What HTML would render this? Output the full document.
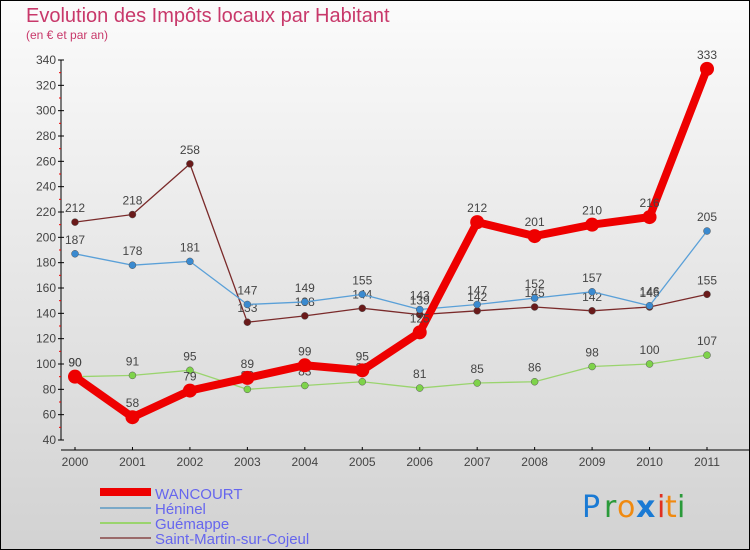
<!DOCTYPE html>
<html><head><meta charset="utf-8"><style>
body{margin:0;width:750px;height:550px;overflow:hidden;font-family:"Liberation Sans","DejaVu Sans",sans-serif}
svg{display:block}
</style></head><body>
<svg id="c" width="750" height="550" xmlns="http://www.w3.org/2000/svg">
<defs><linearGradient id="bg" x1="0" y1="0" x2="0" y2="1"><stop offset="0" stop-color="#fbfbfb"/><stop offset="1" stop-color="#d2d2d2"/></linearGradient></defs>
<rect x="0.5" y="0.5" width="749" height="549" fill="url(#bg)" stroke="#000"/>
<text x="26" y="22" font-size="20" fill="#c8386a">Evolution des Impôts locaux par Habitant</text>
<text x="26" y="39" font-size="12" fill="#c8386a">(en € et par an)</text>
<g id="axes"></g><g id="series"></g>
<g>
<rect x="100" y="488" width="51" height="8" fill="#e00"/>
<text x="155" y="499" font-size="15" fill="#6666ee">WANCOURT</text>
<rect x="100" y="507" width="51" height="2" fill="#7aa9c8"/>
<text x="155" y="514" font-size="15" fill="#6666ee">Héninel</text>
<rect x="100" y="522" width="51" height="2" fill="#9ad46e"/>
<text x="155" y="529" font-size="15" fill="#6666ee">Guémappe</text>
<rect x="100" y="537" width="51" height="2" fill="#9a6a6a"/>
<text x="155" y="544" font-size="15" fill="#6666ee">Saint-Martin-sur-Cojeul</text>
</g>
<g font-size="30" font-family="DejaVu Sans, sans-serif">
<text x="582" y="517" fill="#1a7ad4">P</text><text x="604" y="517" fill="#2a9a3a">r</text><text x="617" y="517" fill="#f08a10">o</text><text x="636" y="517" fill="#1a7ad4" font-weight="bold">x</text><text x="657" y="517" fill="#e03020">i</text><text x="665" y="517" fill="#f08a10">t</text><text x="677" y="517" fill="#2a9a3a">i</text>
</g>
</svg>
<script>
const years=["2000","2001","2002","2003","2004","2005","2006","2007","2008","2009","2010","2011"];
const yTicks=[40,60,80,100,120,140,160,180,200,220,240,260,280,300,320,340];
const wancourt=[90,58,79,89,99,95,125,212,201,210,216,333];
const heninel=[187,178,181,147,149,155,143,147,152,157,146,205];
const guemappe=[90,91,95,80,83,86,81,85,86,98,100,107];
const saintMartin=[212,218,258,133,138,144,139,142,145,142,145,155];
const NS="http://www.w3.org/2000/svg";
const xs=i=>75+i*(707-75)/11;
const ys=v=>440-(v-40)*380/300;
function mk(tag,at,parent){const e=document.createElementNS(NS,tag);for(const k in at)e.setAttribute(k,at[k]);parent.appendChild(e);return e;}
const ax=document.getElementById('axes');
let l=mk('line',{x1:61,y1:60,x2:61,y2:440,stroke:'#000'},ax);


yTicks.forEach((v,i)=>{
  mk('line',{x1:58,y1:ys(v),x2:64,y2:ys(v),stroke:'#000'},ax);
  if(i<yTicks.length-1)mk('line',{x1:59,y1:ys(v+10),x2:61,y2:ys(v+10),stroke:'#e00'},ax);
  const t=mk('text',{x:56,y:ys(v)+4,'font-size':12,fill:'#444','text-anchor':'end'},ax);t.textContent=v;
  
  
});
l=mk('line',{x1:61,y1:450,x2:749,y2:450,stroke:'#000'},ax);


years.forEach((y,i)=>{
  mk('line',{x1:xs(i),y1:447,x2:xs(i),y2:450,stroke:'#000'},ax);
  const t=mk('text',{x:xs(i),y:466,'font-size':12,fill:'#444','text-anchor':'middle'},ax);t.textContent=y;
  
  
});
const sg=document.getElementById('series');
function draw(data,name,color,dot,w,r){
  const g=mk('g',{},sg);
  
  
  const p=mk('polyline',{points:data.map((v,i)=>xs(i)+','+ys(v)).join(' '),fill:'none',stroke:color,'stroke-width':w,'stroke-linejoin':'round'},g);
  
  
  data.forEach((v,i)=>{
    const c=mk('circle',{cx:xs(i),cy:ys(v),r:r,fill:dot,stroke:w>3?'none':'#555','stroke-width':0.5},g);
    
    
    const t=mk('text',{x:xs(i),y:ys(v)-10,'font-size':12,fill:'#444','text-anchor':'middle'},g);t.textContent=v;
    
    
  });
}
draw(guemappe,'guemappe','#9ad46e','#7ed34a',1.3,3.5);
draw(saintMartin,'saint-martin','#7a2a2a','#6a1a1a',1.3,3.5);
draw(heninel,'heninel','#5aa0d8','#3a8ad0',1.3,3.5);
draw(wancourt,'wancourt','#ee0000','#ee0000',8,7);
</script>
</body></html>
